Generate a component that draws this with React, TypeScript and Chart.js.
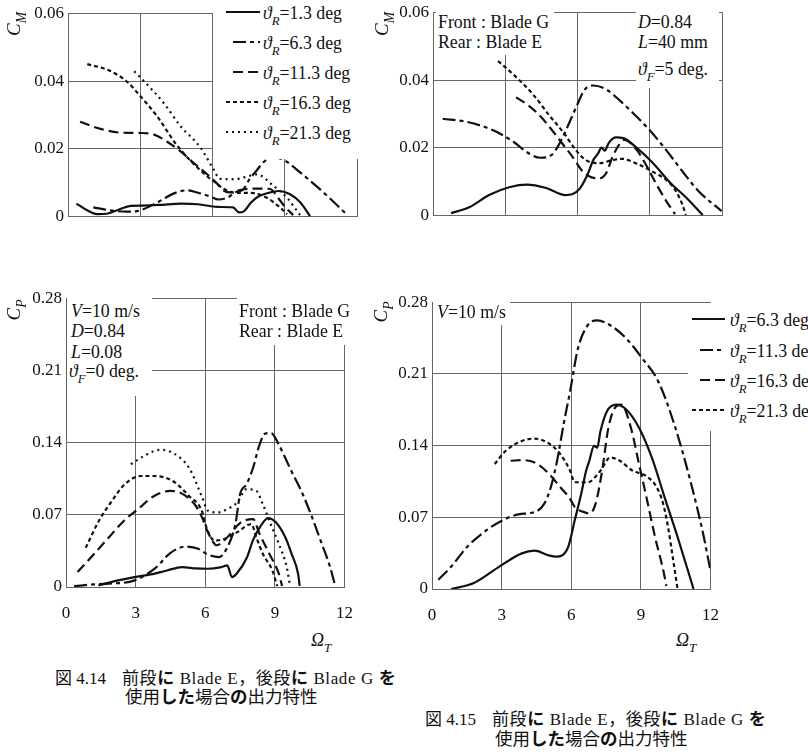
import React, { useEffect, useRef } from "react";
import { Chart, registerables } from "chart.js";

Chart.register(...registerables);

type Pt = [number, number];

// Fig. 4.14 (front: Blade G / rear: Blade E) — torque coefficient C_M vs tip speed ratio
const m14_13: Pt[] = [[0.35,0.0039],[0.8,0.0019],[1.2,0.0008],[1.6,0.0009],[2.1,0.0021],[2.6,0.0032],[3.1,0.0033],[3.8,0.0035],[4.7,0.0039],[5.4,0.0037],[6.2,0.0029],[6.85,0.0028],[7.1,0.0013],[7.3,0.0016],[7.6,0.0042],[7.9,0.006],[8.3,0.007],[8.75,0.0076],[9.2,0.0067],[9.65,0.0042],[10.05,0.0002]];
const m14_63: Pt[] = [[1.05,0.0028],[1.75,0.0019],[2.45,0.0015],[3.0,0.0019],[3.8,0.0046],[4.4,0.0069],[4.95,0.0078],[5.4,0.0071],[5.9,0.006],[6.25,0.0051],[6.6,0.0056],[7.0,0.0074],[7.25,0.0079],[7.55,0.0112],[7.85,0.0138],[8.1,0.016],[8.5,0.0176],[8.95,0.0168],[9.65,0.013],[10.35,0.0088],[11.0,0.0046],[11.6,0.0005]];
const m14_113: Pt[] = [[0.5,0.028],[1.35,0.0259],[2.2,0.0248],[3.0,0.0247],[3.55,0.0243],[4.1,0.0222],[4.65,0.0194],[5.2,0.016],[5.8,0.0124],[6.2,0.0097],[6.45,0.0078],[6.7,0.0072],[7.0,0.0076],[7.4,0.0082],[8.0,0.0083],[8.4,0.0082],[8.7,0.0058],[9.0,0.003],[9.35,0.0005]];
const m14_163: Pt[] = [[0.8,0.045],[1.75,0.043],[2.45,0.0398],[3.0,0.0356],[3.7,0.0296],[4.5,0.0213],[5.2,0.0157],[5.8,0.0118],[6.1,0.0102],[6.45,0.0083],[6.9,0.0071],[7.7,0.007],[8.25,0.0056],[8.8,0.0028],[9.1,0.0008]];
const m14_213: Pt[] = [[2.75,0.0429],[3.3,0.0389],[4.0,0.0333],[4.65,0.0269],[5.5,0.0204],[6.05,0.0139],[6.3,0.0112],[6.75,0.0111],[7.15,0.0113],[7.5,0.012],[7.85,0.0125],[8.5,0.0093],[9.1,0.0056],[9.4,0.0028],[9.65,0.0004]];

// Fig. 4.15 — torque coefficient C_M
const m15_63: Pt[] = [[0.75,0.0008],[1.5,0.0025],[2.35,0.0062],[3.2,0.0085],[3.9,0.0092],[4.7,0.0082],[5.5,0.0061],[5.8,0.0064],[6.1,0.0081],[6.45,0.0127],[6.65,0.0164],[6.85,0.0183],[7.0,0.0201],[7.13,0.0192],[7.3,0.0215],[7.6,0.0231],[7.9,0.0229],[8.45,0.0201],[9.14,0.0155],[9.83,0.0099],[10.52,0.0053],[11.2,0.0002]];
const m15_113: Pt[] = [[0.4,0.0286],[1.4,0.0277],[2.5,0.0252],[3.3,0.022],[4.0,0.0183],[4.45,0.0171],[4.9,0.0178],[5.2,0.0206],[5.55,0.0257],[5.95,0.0321],[6.3,0.0372],[6.65,0.0384],[7.2,0.0372],[7.75,0.034],[8.3,0.0303],[9.0,0.0252],[9.7,0.0192],[10.4,0.0127],[11.05,0.0071],[11.98,0.0014]];
const m15_163: Pt[] = [[3.45,0.0349],[3.95,0.0326],[4.45,0.0294],[5.0,0.0247],[5.4,0.021],[5.8,0.0173],[6.2,0.0132],[6.5,0.0116],[6.9,0.011],[7.2,0.0127],[7.45,0.0173],[7.75,0.0212],[7.95,0.0224],[8.45,0.0195],[8.9,0.0143],[9.3,0.009],[9.7,0.0042],[10.05,0.0005]];
const m15_213: Pt[] = [[2.7,0.0456],[3.3,0.0419],[4.15,0.0358],[4.85,0.0294],[5.4,0.0247],[5.95,0.0192],[6.35,0.0164],[6.9,0.0155],[7.45,0.0164],[7.85,0.0168],[8.5,0.0152],[9.25,0.0125],[9.8,0.0099],[10.1,0.0071],[10.35,0.0034],[10.5,0.0003]];

// Fig. 4.14 — power coefficient C_P
const p14_13: Pt[] = [[1.4,0.0016],[2.25,0.0064],[2.95,0.0096],[3.65,0.0122],[4.35,0.016],[5.0,0.0193],[5.6,0.018],[6.1,0.0177],[6.7,0.0193],[6.95,0.0209],[7.15,0.0096],[7.35,0.0129],[7.8,0.0289],[8.05,0.045],[8.35,0.0578],[8.7,0.0668],[9.05,0.0626],[9.45,0.0482],[9.72,0.0322],[10.0,0.0129],[10.07,0.001]];
const p14_63: Pt[] = [[0.35,0.0008],[1.2,0.0025],[1.85,0.0032],[2.95,0.0064],[3.9,0.0193],[4.45,0.0322],[5.15,0.0392],[5.7,0.037],[6.1,0.0315],[6.6,0.029],[6.95,0.0385],[7.3,0.061],[7.5,0.09],[7.78,0.0996],[8.06,0.1156],[8.34,0.138],[8.6,0.149],[8.85,0.149],[9.17,0.138],[9.45,0.125],[9.72,0.112],[10.14,0.093],[10.55,0.0707],[10.97,0.045],[11.38,0.0193],[11.6,0.001]];
const p14_113: Pt[] = [[0.5,0.0145],[1.15,0.0305],[1.85,0.0482],[2.5,0.0643],[3.1,0.0755],[3.8,0.0883],[4.5,0.0932],[5.0,0.0905],[5.55,0.08],[5.85,0.068],[6.15,0.0514],[6.5,0.0405],[6.95,0.0482],[7.5,0.062],[8.06,0.0659],[8.34,0.0514],[8.76,0.0322],[9.17,0.0129],[9.31,0.001]];
const p14_163: Pt[] = [[0.85,0.038],[1.42,0.0643],[1.98,0.0835],[2.53,0.0996],[3.22,0.1076],[3.78,0.1076],[4.6,0.1028],[5.3,0.0883],[5.85,0.0739],[6.05,0.0578],[6.4,0.045],[6.82,0.0466],[7.37,0.053],[7.99,0.061],[8.2,0.0482],[8.48,0.0322],[8.89,0.0161],[9.1,0.001]];
const p14_213: Pt[] = [[2.8,0.119],[3.36,0.127],[4.05,0.133],[4.6,0.13],[5.3,0.1156],[5.85,0.088],[6.12,0.0739],[6.54,0.0723],[6.95,0.0755],[7.37,0.0819],[7.78,0.0948],[8.2,0.0932],[8.48,0.0803],[8.82,0.061],[9.17,0.0418],[9.51,0.0193],[9.65,0.0016]];

// Fig. 4.15 — power coefficient C_P
const p15_63: Pt[] = [[0.83,0.0],[1.8,0.0058],[2.9,0.0219],[3.87,0.0348],[4.42,0.0374],[4.98,0.0332],[5.35,0.0316],[5.85,0.04],[6.15,0.0671],[6.43,0.093],[6.64,0.1155],[6.78,0.1252],[6.98,0.1397],[7.12,0.138],[7.26,0.1542],[7.54,0.1736],[7.95,0.18],[8.37,0.1752],[8.92,0.1574],[9.47,0.1284],[10.02,0.0897],[10.58,0.0509],[11.27,0.0]];
const p15_113: Pt[] = [[0.27,0.009],[0.83,0.0219],[1.52,0.0413],[2.35,0.0574],[3.04,0.0671],[3.73,0.0729],[4.42,0.0751],[4.84,0.0833],[5.12,0.0994],[5.39,0.1252],[5.67,0.1607],[5.95,0.193],[6.29,0.2349],[6.71,0.2575],[7.12,0.2623],[7.68,0.2575],[8.37,0.2446],[9.06,0.2252],[9.75,0.2026],[10.44,0.1607],[11.13,0.1058],[11.68,0.0542],[11.98,0.02]];
const p15_163: Pt[] = [[3.39,0.1252],[3.87,0.1258],[4.42,0.1235],[4.98,0.1139],[5.53,0.0994],[5.95,0.0881],[6.15,0.08],[6.5,0.0755],[6.78,0.0736],[7.05,0.0833],[7.33,0.1155],[7.6,0.1574],[7.88,0.1768],[8.16,0.18],[8.57,0.1574],[8.92,0.122],[9.27,0.0864],[9.61,0.0509],[9.96,0.0187],[10.1,0.003]];
const p15_213: Pt[] = [[2.7,0.122],[3.18,0.135],[3.87,0.1445],[4.42,0.1468],[4.98,0.1429],[5.53,0.1316],[5.95,0.1155],[6.15,0.1042],[6.71,0.1042],[7.26,0.1155],[7.68,0.1284],[8.09,0.1252],[8.64,0.1155],[9.2,0.1107],[9.68,0.0994],[9.96,0.0833],[10.17,0.0606],[10.37,0.0316],[10.58,0.0]];

// Axis ticks
const xTickValues = [0, 3, 6, 9, 12];
const xTickLabels = ["0", "3", "6", "9", "12"];
const cmTickValues = [0, 0.02, 0.04, 0.06];
const cmTickLabels = ["0", "0.02", "0.04", "0.06"];
const cpTickValues = [0, 0.07, 0.14, 0.21, 0.28];
const cpTickLabels = ["0", "0.07", "0.14", "0.21", "0.28"];

// Rear blade setting angles shown in the legends
const angles14 = ["1.3", "6.3", "11.3", "16.3", "21.3"];
const angles15 = ["6.3", "11.3", "16.3", "21.3"];

const SERIF = '"Liberation Serif", "Times New Roman", Tinos, "DejaVu Serif", serif';
const MIXED = '"Liberation Serif", "Times New Roman", Tinos, "DejaVu Serif", "Noto Sans CJK JP", serif';
const INK = "#111";
const GRID = "#666";
const NOTE = 17.8;

const DASH = {
  solid: [] as number[],
  chain: [13, 4, 4, 4],
  dash: [10, 5],
  short: [4, 3],
  dot: [2, 4],
};

const styles14 = [DASH.solid, DASH.chain, DASH.dash, DASH.short, DASH.dot];
const styles15 = [DASH.solid, DASH.chain, DASH.dash, DASH.short];

const Y_AXIS_W = 60;
const PAD_TOP = 12;
const PAD_RIGHT = 14;

interface PanelProps {
  left: number;
  top: number;
  width: number;
  height: number;
  yMax: number;
  yTicks: number[];
  yLabels: string[];
  showX: boolean;
  series: Pt[][];
  dashes: number[][];
}

function Panel(p: PanelProps) {
  const ref = useRef<HTMLCanvasElement>(null);
  const xAxisH = p.showX ? 40 : 4;
  const cw = Y_AXIS_W + p.width + PAD_RIGHT;
  const ch = PAD_TOP + p.height + xAxisH;

  useEffect(() => {
    const font = { family: SERIF, size: 17 };
    const chart = new Chart(ref.current as HTMLCanvasElement, {
      type: "line",
      data: {
        datasets: p.series.map((s, i) => ({
          data: s.map(([x, y]) => ({ x, y })),
          borderColor: INK,
          borderWidth: 2.2,
          borderDash: p.dashes[i],
          pointRadius: 0,
          fill: false,
          cubicInterpolationMode: "monotone" as const,
        })),
      },
      options: {
        animation: false,
        responsive: false,
        events: [],
        layout: { padding: { top: PAD_TOP, right: PAD_RIGHT, left: 0, bottom: 0 } },
        plugins: { legend: { display: false }, tooltip: { enabled: false } },
        scales: {
          x: {
            type: "linear",
            min: 0,
            max: 12,
            afterBuildTicks: (s: any) => {
              s.ticks = xTickValues.map((v) => ({ value: v }));
            },
            afterFit: (s: any) => {
              s.height = xAxisH;
            },
            ticks: {
              display: p.showX,
              padding: 16,
              color: INK,
              font,
              maxRotation: 0,
              callback: (_v: any, i: number) => xTickLabels[i],
            },
            grid: { color: GRID, drawTicks: false, lineWidth: 1 },
            border: { color: GRID, width: 1 },
          },
          y: {
            type: "linear",
            min: 0,
            max: p.yMax,
            afterBuildTicks: (s: any) => {
              s.ticks = p.yTicks.map((v) => ({ value: v }));
            },
            afterFit: (s: any) => {
              s.width = Y_AXIS_W;
            },
            ticks: {
              padding: 4,
              color: INK,
              font,
              callback: (_v: any, i: number) => p.yLabels[i],
            },
            grid: { color: GRID, drawTicks: false, lineWidth: 1 },
            border: { color: GRID, width: 1 },
          },
        },
      },
    } as any);
    return () => chart.destroy();
  }, []);

  return (
    <canvas
      ref={ref}
      width={cw}
      height={ch}
      style={{ position: "absolute", left: p.left - Y_AXIS_W, top: p.top - PAD_TOP, width: cw, height: ch }}
    />
  );
}

function Sub({ children }: { children: React.ReactNode }) {
  return (
    <span style={{ fontSize: "0.72em", position: "relative", top: "0.45em", fontStyle: "italic" }}>{children}</span>
  );
}

function Txt(props: { x: number; cy: number; size?: number; family?: string; style?: React.CSSProperties; children: React.ReactNode }) {
  const size = props.size ?? NOTE;
  return (
    <div
      style={{
        position: "absolute",
        left: props.x,
        top: props.cy - size * 0.5,
        fontSize: size,
        lineHeight: `${size}px`,
        whiteSpace: "nowrap",
        fontFamily: props.family ?? SERIF,
        color: INK,
        ...props.style,
      }}
    >
      {props.children}
    </div>
  );
}

function Blank(props: { x: number; y: number; w: number; h: number }) {
  return <div style={{ position: "absolute", left: props.x, top: props.y, width: props.w, height: props.h, background: "#fff" }} />;
}

function Sample(props: { x1: number; x2: number; y: number; dash: number[] }) {
  const w = props.x2 - props.x1;
  return (
    <svg width={w} height={6} style={{ position: "absolute", left: props.x1, top: props.y - 3 }}>
      <line x1={0} y1={3} x2={w} y2={3} stroke={INK} strokeWidth={2.2} strokeDasharray={props.dash.length ? props.dash.join(" ") : undefined} />
    </svg>
  );
}

function AxisTitle(props: { cx: number; cy: number; sym: string; sub: string }) {
  return (
    <div
      style={{
        position: "absolute",
        left: props.cx,
        top: props.cy,
        transform: "translate(-50%, -50%) rotate(-90deg)",
        fontFamily: SERIF,
        fontSize: 19,
        lineHeight: "19px",
        whiteSpace: "nowrap",
        color: INK,
      }}
    >
      <i>{props.sym}</i>
      <Sub>{props.sub}</Sub>
    </div>
  );
}

function Legend(props: { x1: number; x1b: number; x2: number; tx: number; rows: number[]; angles: string[]; dashes: number[][] }) {
  return (
    <>
      {props.angles.map((a, i) => {
        const d = props.dashes[i];
        const start = d === DASH.chain || d === DASH.dash ? props.x1b : props.x1;
        return (
          <React.Fragment key={a}>
            <Sample x1={start} x2={props.x2} y={props.rows[i]} dash={d} />
            <Txt x={props.tx} cy={props.rows[i] + 2}>
              <i>ϑ</i>
              <Sub>R</Sub>=
              {a} deg
            </Txt>
          </React.Fragment>
        );
      })}
    </>
  );
}

function Caption(props: { x: number; x2: number; cy: number; gap: number; fig: string }) {
  return (
    <>
      <Txt x={props.x} cy={props.cy} size={17} family={MIXED}>
        図 {props.fig}
      </Txt>
      <Txt x={props.x2} cy={props.cy} size={17} family={MIXED} style={{ letterSpacing: "0.6px" }}>
        前段<b>に</b> Blade E，後段<b>に</b> Blade G <b>を</b>
      </Txt>
      <Txt x={props.x2 + 3} cy={props.cy + props.gap} size={17.5} family={MIXED}>
        使用<b>した</b>場合<b>の</b>出力特性
      </Txt>
    </>
  );
}

export default function App() {
  return (
    <div style={{ position: "absolute", left: 0, top: 0, width: 808, height: 755, overflow: "hidden", background: "#fff" }}>
      <Panel left={68} top={11} width={289} height={216} yMax={0.06} yTicks={cmTickValues} yLabels={cmTickLabels} showX={false}
        series={[m14_13, m14_63, m14_113, m14_163, m14_213]} dashes={styles14} />
      <Panel left={433} top={10} width={289} height={216} yMax={0.06} yTicks={cmTickValues} yLabels={cmTickLabels} showX={false}
        series={[m15_63, m15_113, m15_163, m15_213]} dashes={styles15} />
      <Panel left={66} top={296} width={289} height={291} yMax={0.28} yTicks={cpTickValues} yLabels={cpTickLabels} showX={true}
        series={[p14_13, p14_63, p14_113, p14_163, p14_213]} dashes={styles14} />
      <Panel left={432} top={300} width={289} height={289} yMax={0.28} yTicks={cpTickValues} yLabels={cpTickLabels} showX={true}
        series={[p15_63, p15_113, p15_163, p15_213]} dashes={styles15} />

      {/* Fig. 4.14 C_M legend */}
      <Blank x={213} y={0} w={152} h={159} />
      <Legend x1={226} x1b={233} x2={260} tx={263} rows={[12, 42, 72, 102, 132]} angles={angles14} dashes={styles14} />

      {/* Fig. 4.15 C_M notes */}
      <Blank x={436} y={11} w={118} h={44} />
      <Txt x={438} cy={23}>Front : Blade G</Txt>
      <Txt x={438} cy={43}>Rear : Blade E</Txt>
      <Blank x={636} y={11} w={83} h={77} />
      <Txt x={638} cy={23}><i>D</i>=0.84</Txt>
      <Txt x={638} cy={43}><i>L</i>=40 mm</Txt>
      <Txt x={638} cy={70}><i>ϑ</i><Sub>F</Sub>=5 deg.</Txt>

      {/* Fig. 4.14 C_P notes */}
      <Blank x={67} y={297} w={85} h={99} />
      <Txt x={71} cy={312}><i>V</i>=10 m/s</Txt>
      <Txt x={71} cy={332}><i>D</i>=0.84</Txt>
      <Txt x={71} cy={353}><i>L</i>=0.08</Txt>
      <Txt x={69} cy={372}><i>ϑ</i><Sub>F</Sub>=0 deg.</Txt>
      <Blank x={237} y={297} w={117} h={48} />
      <Txt x={239} cy={312}>Front : Blade G</Txt>
      <Txt x={239} cy={332}>Rear : Blade E</Txt>

      {/* Fig. 4.15 C_P notes and legend */}
      <Blank x={433} y={301} w={77} h={24} />
      <Txt x={437} cy={313}><i>V</i>=10 m/s</Txt>
      <Blank x={688} y={303} w={120} h={128} />
      <Legend x1={692} x1b={700} x2={725} tx={730} rows={[319, 350, 380, 410]} angles={angles15} dashes={styles15} />

      {/* Axis titles */}
      <AxisTitle cx={14} cy={24} sym="C" sub="M" />
      <AxisTitle cx={382} cy={24} sym="C" sub="M" />
      <AxisTitle cx={14} cy={310} sym="C" sub="P" />
      <AxisTitle cx={381} cy={312} sym="C" sub="P" />
      <Txt x={311} cy={640} size={18}><i>Ω</i><Sub>T</Sub></Txt>
      <Txt x={676} cy={640} size={18}><i>Ω</i><Sub>T</Sub></Txt>

      {/* Figure captions */}
      <Caption x={55} x2={122} cy={678} gap={20} fig="4.14" />
      <Caption x={425} x2={492} cy={719} gap={21} fig="4.15" />
    </div>
  );
}
